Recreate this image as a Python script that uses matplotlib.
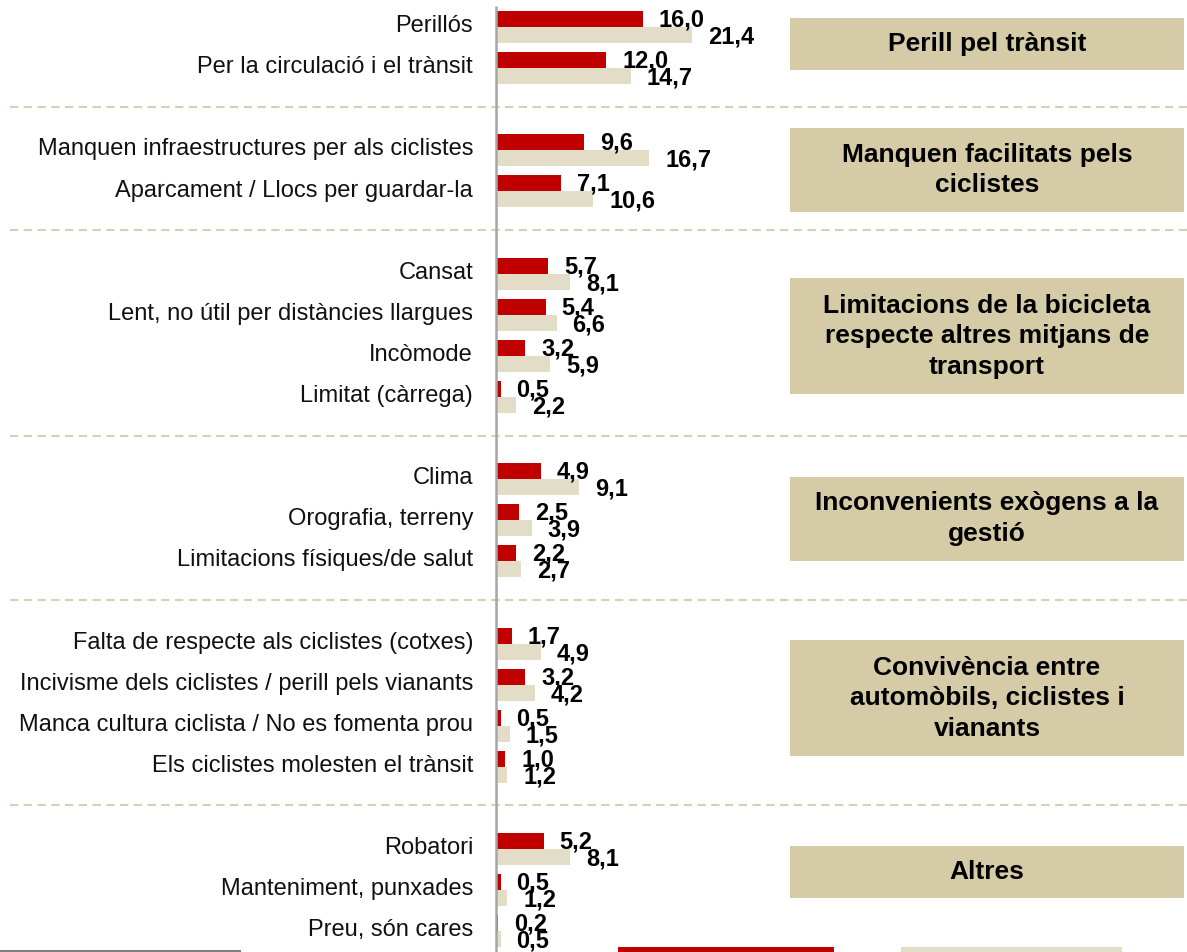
import matplotlib
matplotlib.use("Agg")
import matplotlib.pyplot as plt
from matplotlib.patches import Rectangle
from matplotlib.lines import Line2D

plt.rcParams['font.family'] = ['Liberation Sans', 'DejaVu Sans']

# ---------------- data ----------------
categories = [
    "Perillós", "Per la circulació i el trànsit",
    "Manquen infraestructures per als ciclistes", "Aparcament / Llocs per guardar-la",
    "Cansat", "Lent, no útil per distàncies llargues", "Incòmode", "Limitat (càrrega)",
    "Clima", "Orografia, terreny", "Limitacions físiques/de salut",
    "Falta de respecte als ciclistes (cotxes)", "Incivisme dels ciclistes / perill pels vianants",
    "Manca cultura ciclista / No es fomenta prou", "Els ciclistes molesten el trànsit",
    "Robatori", "Manteniment, punxades", "Preu, són cares",
]
series_red = [16.0, 12.0, 9.6, 7.1, 5.7, 5.4, 3.2, 0.5, 4.9, 2.5, 2.2,
              1.7, 3.2, 0.5, 1.0, 5.2, 0.5, 0.2]
series_beige = [21.4, 14.7, 16.7, 10.6, 8.1, 6.6, 5.9, 2.2, 9.1, 3.9, 2.7,
                4.9, 4.2, 1.5, 1.2, 8.1, 1.2, 0.5]
group_sizes = [2, 2, 4, 3, 4, 3]
group_names = [
    "Perill pel trànsit",
    "Manquen facilitats pels\nciclistes",
    "Limitacions de la bicicleta\nrespecte altres mitjans de\ntransport",
    "Inconvenients exògens a la\ngestió",
    "Convivència entre\nautomòbils, ciclistes i\nvianants",
    "Altres",
]

# ---------------- layout ----------------
W, H = 1187, 952
DPI = 100
px_per_unit = 9.17
x0_px = 496
slot_px = 41.1
first_px = 27.0

RED = "#C00000"
BEIGE = "#E3DDC7"
BOX = "#D5CCA7"
SEP = "#D8D0B4"

fig = plt.figure(figsize=(W / DPI, H / DPI), dpi=DPI)
ax = fig.add_axes([0, 0, 1, 1])
ax.set_xlim(-x0_px / px_per_unit, (W - x0_px) / px_per_unit)
ax.set_ylim((H - first_px) / slot_px, -first_px / slot_px)
ax.axis("off")

# slot positions with a gap between groups
positions = []
sep_positions = []
s = 0
for gi, n in enumerate(group_sizes):
    positions.extend(range(s, s + n))
    s += n
    if gi < len(group_sizes) - 1:
        sep_positions.append(s)
        s += 1

bh = 16 / slot_px
red_y = [p - bh / 2 for p in positions]
beige_y = [p + bh / 2 for p in positions]
ax.barh(red_y, series_red, height=bh, color=RED, zorder=3)
ax.barh(beige_y, series_beige, height=bh, color=BEIGE, zorder=3)

def fmt(v):
    return f"{v:.1f}".replace(".", ",")

for y, v in zip(red_y, series_red):
    ax.annotate(fmt(v), (v, y), xytext=(16, -1), textcoords="offset pixels",
                ha="left", va="center", fontsize=17, fontweight="bold", zorder=5)
for y, v in zip(beige_y, series_beige):
    ax.annotate(fmt(v), (v, y), xytext=(16, -2), textcoords="offset pixels",
                ha="left", va="center", fontsize=17, fontweight="bold", zorder=5)

# category labels
lab_x = (473 - x0_px) / px_per_unit
for p, c in zip(positions, categories):
    ax.text(lab_x, p - 0.02, c, ha="right", va="center", fontsize=17, color="#111111")

# vertical axis line
ax.plot([0, 0], [-0.5, (H - first_px) / slot_px], color="#A6A6A6", lw=1.8, zorder=4,
        solid_capstyle="butt")

# separators
sep_x0 = (10 - x0_px) / px_per_unit
sep_x1 = (W - x0_px) / px_per_unit
for sp in sep_positions:
    ax.plot([sep_x0, sep_x1], [sp - 0.06, sp - 0.06], color=SEP, lw=1.5,
            linestyle=(0, (4, 2.6)), zorder=1)

# group boxes
box_x0 = (790 - x0_px) / px_per_unit
box_x1 = (1184 - x0_px) / px_per_unit
box_centers = [0.41, 3.48, 7.53, 11.96, 16.33, 20.55]
for name, cy in zip(group_names, box_centers):
    nlines = name.count("\n") + 1
    h = (20 + 32 * nlines) / slot_px
    ax.add_patch(Rectangle((box_x0, cy - h / 2), box_x1 - box_x0, h,
                           facecolor=BOX, edgecolor="none", zorder=2))
    ax.text((box_x0 + box_x1) / 2, cy, name, ha="center", va="center",
            fontsize=19, fontweight="bold", linespacing=1.35, zorder=3)

# legend fragments cut at the bottom edge
fig.add_artist(Line2D([0, 240 / W], [1.0 / H, 1.0 / H], color="#808080", lw=1.5,
                      transform=fig.transFigure))
fig.add_artist(Rectangle((618 / W, 0), 216 / W, 5 / H, facecolor=RED,
                         edgecolor="none", transform=fig.transFigure))
fig.add_artist(Rectangle((901 / W, 0), 221 / W, 5 / H, facecolor=BEIGE,
                         edgecolor="none", transform=fig.transFigure))

fig.savefig("out.png", dpi=DPI)
